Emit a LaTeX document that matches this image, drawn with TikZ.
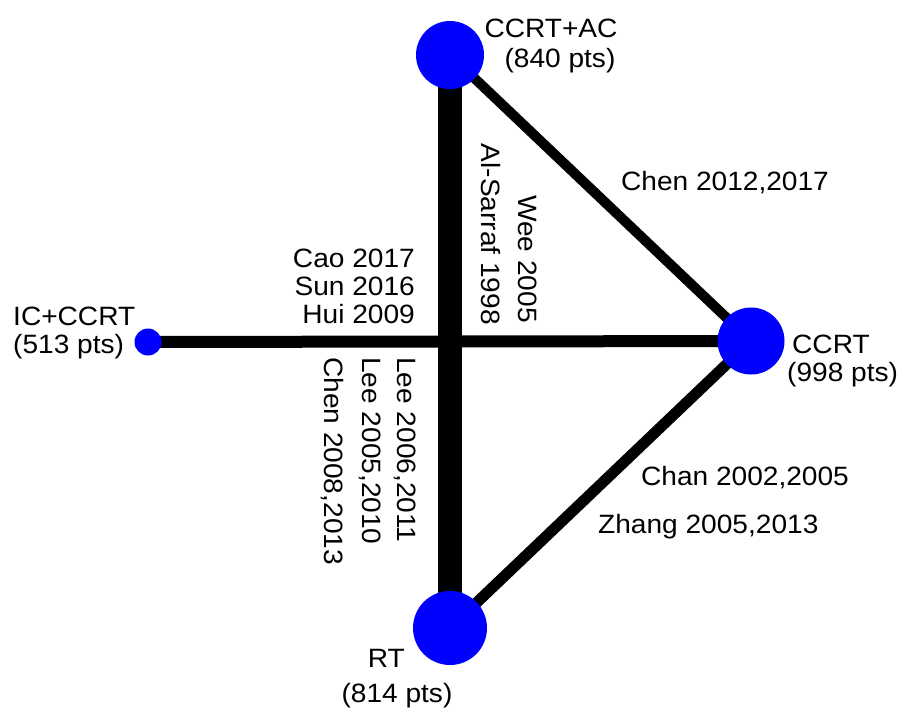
\documentclass[tikz,border=0pt]{standalone}
\usepackage{fontspec}
\setmainfont{Liberation Sans}[FakeStretch=1.06]
\usetikzlibrary{backgrounds}
\definecolor{nodeblue}{RGB}{0,0,255}
\tikzset{
  trt/.style={circle,fill=nodeblue,draw=none,inner sep=0pt},
  lbl/.style={inner sep=0pt,font=\fontsize{26.5}{30}\selectfont},
  vlbl/.style={lbl,rotate=-90},
  edge/.style={draw=black,line cap=butt}
}
\begin{document}
\begin{tikzpicture}[x=1pt,y=-1pt]
\useasboundingbox (0,0) rectangle (904,712);
% treatment nodes
\node[trt,minimum size=68pt] (ccrtac) at (450,55) {};
\node[trt,minimum size=67pt] (ccrt) at (751,341) {};
\node[trt,minimum size=27pt] (ic) at (148,342) {};
\node[trt,minimum size=74pt] (rt) at (450,628) {};
% edges
\begin{pgfonlayer}{background}
\draw[edge,line width=24pt] (ccrtac.center) -- (rt.center);
\draw[edge,line width=12pt] (ic.center) -- (ccrt.center);
\draw[edge,line width=10pt] (ccrtac.center) -- (ccrt.center);
\draw[edge,line width=11pt] (rt.center) -- (ccrt.center);
\end{pgfonlayer}
% node labels
\node[lbl,anchor=base] (l1a) at (551,37) {CCRT+AC};
\node[lbl,anchor=base] (l1b) at (560,67) {(840 pts)};
\node[lbl,anchor=base west] (l2a) at (13,325) {IC+CCRT};
\node[lbl,anchor=base west] (l2b) at (13,353) {(513 pts)};
\node[lbl,anchor=base west] (l3a) at (792,353) {CCRT};
\node[lbl,anchor=base west] (l3b) at (787,381) {(998 pts)};
\node[lbl,anchor=base east] (l4a) at (405,667) {RT};
\node[lbl,anchor=base] (l4b) at (397,702) {(814 pts)};
% study labels
\node[lbl,anchor=base] (s1) at (725,190) {Chen 2012,2017};
\node[lbl,anchor=base] (s2) at (745,485) {Chan 2002,2005};
\node[lbl,anchor=base west] (s3) at (598,533) {Zhang 2005,2013};
\node[lbl,anchor=base east] (s4) at (415,267) {Cao 2017};
\node[lbl,anchor=base east] (s5) at (415,295) {Sun 2016};
\node[lbl,anchor=base east] (s6) at (415,323) {Hui 2009};
\node[vlbl,anchor=east] (s7) at (528,323) {Wee 2005};
\node[vlbl,anchor=east] (s8) at (491,325) {Al-Sarraf 1998};
\node[vlbl,anchor=west] (s9) at (405,357) {Lee 2006,2011};
\node[vlbl,anchor=west] (s10) at (370,357) {Lee 2005,2010};
\node[vlbl,anchor=west] (s11) at (332,357) {Chen 2008,2013};
\end{tikzpicture}
\end{document}
